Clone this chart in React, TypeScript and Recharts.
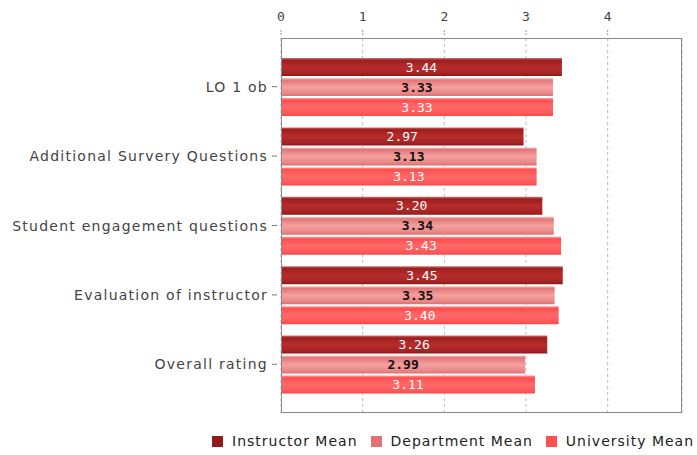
import React from "react";
import { BarChart, Bar, XAxis, YAxis, CartesianGrid, LabelList } from "recharts";

const categories = [
  "LO 1 ob",
  "Additional Survery Questions",
  "Student engagement questions",
  "Evaluation of instructor",
  "Overall rating",
];
const instructorMean = [3.44, 2.97, 3.2, 3.45, 3.26];
const departmentMean = [3.33, 3.13, 3.34, 3.35, 2.99];
const universityMean = [3.33, 3.13, 3.43, 3.4, 3.11];
const xTicks = [0, 1, 2, 3, 4];

const SERIES = [
  { key: "instructor", name: "Instructor Mean", grad: "gInst", swatch: "#8e1c1c", label: "#ffffff" },
  { key: "department", name: "Department Mean", grad: "gDept", swatch: "#e07272", label: "#111111" },
  { key: "university", name: "University Mean", grad: "gUniv", swatch: "#ff4f4f", label: "#ffffff" },
];

const data = categories.map((name, i) => ({
  name,
  instructor: instructorMean[i],
  department: departmentMean[i],
  university: universityMean[i],
}));

const MONO = "'DejaVu Sans Mono', monospace";
const SANS = "'DejaVu Sans', sans-serif";

const XTick = (props: any) => {
  const { x, y, payload } = props;
  return (
    <g>
      <line x1={x} x2={x} y1={y - 8} y2={y - 3} stroke="#999" strokeDasharray="2 1" />
      <text x={x} y={y - 17} textAnchor="middle" fontFamily={MONO} fontSize={13} fill="#444">
        {payload.value}
      </text>
    </g>
  );
};

const YTick = (props: any) => {
  const { x, y, payload } = props;
  return (
    <g>
      <line x1={x - 9} x2={x - 4} y1={y} y2={y} stroke="#777" />
      <text
        x={x - 13}
        y={y + 5}
        textAnchor="end"
        fontFamily={SANS}
        fontSize={14}
        letterSpacing={1.25}
        fill="#444"
      >
        {payload.value}
      </text>
    </g>
  );
};

export default function App() {
  return (
    <div style={{ position: "absolute", left: 0, top: 0, width: 697, height: 455, background: "#fff", overflow: "hidden" }}>
      <BarChart
        width={697}
        height={455}
        data={data}
        layout="vertical"
        margin={{ top: 8, right: 15, bottom: 42, left: 0 }}
        barSize={18}
        barGap={2}
      >
        <defs>
          <linearGradient id="gInst" x1="0" y1="0" x2="0" y2="1">
            <stop offset="0" stopColor="#d67070" />
            <stop offset="0.12" stopColor="#9c1e1e" />
            <stop offset="0.5" stopColor="#b82c2c" />
            <stop offset="0.85" stopColor="#a62424" />
            <stop offset="1" stopColor="#8a1818" />
          </linearGradient>
          <linearGradient id="gDept" x1="0" y1="0" x2="0" y2="1">
            <stop offset="0" stopColor="#f6c4c4" />
            <stop offset="0.12" stopColor="#e27676" />
            <stop offset="0.5" stopColor="#f5a0a0" />
            <stop offset="0.85" stopColor="#ea8686" />
            <stop offset="1" stopColor="#dc6e6e" />
          </linearGradient>
          <linearGradient id="gUniv" x1="0" y1="0" x2="0" y2="1">
            <stop offset="0" stopColor="#ffa0a0" />
            <stop offset="0.12" stopColor="#ff4e4e" />
            <stop offset="0.5" stopColor="#ff6a6a" />
            <stop offset="0.85" stopColor="#ff5858" />
            <stop offset="1" stopColor="#f54848" />
          </linearGradient>
        </defs>
        <CartesianGrid horizontal={false} stroke="#bbb" strokeDasharray="3 3" />
        <XAxis
          type="number"
          orientation="top"
          domain={[0, 4.91]}
          ticks={xTicks}
          height={30}
          axisLine={false}
          tickLine={false}
          tickSize={0}
          tickMargin={0}
          tick={<XTick />}
          allowDataOverflow
        />
        <YAxis
          type="category"
          dataKey="name"
          width={281}
          axisLine={false}
          tickLine={false}
          tickSize={0}
          tickMargin={0}
          tick={<YTick />}
          padding={{ top: 14, bottom: 14 }}
          interval={0}
        />
        {SERIES.map((s) => (
          <Bar key={s.key} dataKey={s.key} name={s.name} fill={`url(#${s.grad})`} isAnimationActive={false}>
            <LabelList
              dataKey={s.key}
              position="center"
              formatter={(v: any) => Number(v).toFixed(2)}
              fill={s.label}
              fontFamily={MONO}
              fontSize={13}
              fontWeight={s.key === "department" ? 600 : 400}
            />
          </Bar>
        ))}
      </BarChart>
      <div
        style={{
          position: "absolute",
          left: 281,
          top: 38,
          width: 401,
          height: 375,
          border: "1px solid #888",
          boxSizing: "border-box",
          pointerEvents: "none",
        }}
      />
      <div
        style={{
          position: "absolute",
          left: 212,
          top: 433,
          display: "flex",
          alignItems: "center",
          fontFamily: SANS,
          fontSize: 14,
          letterSpacing: 1.0,
          color: "#222",
          whiteSpace: "nowrap",
        }}
      >
        {SERIES.map((s, i) => (
          <span
            key={s.key}
            style={{ display: "flex", alignItems: "center", marginRight: i < SERIES.length - 1 ? 13 : 0 }}
          >
            <span style={{ width: 11, height: 11, background: s.swatch, display: "inline-block", marginRight: 9 }} />
            {s.name}
          </span>
        ))}
      </div>
    </div>
  );
}
